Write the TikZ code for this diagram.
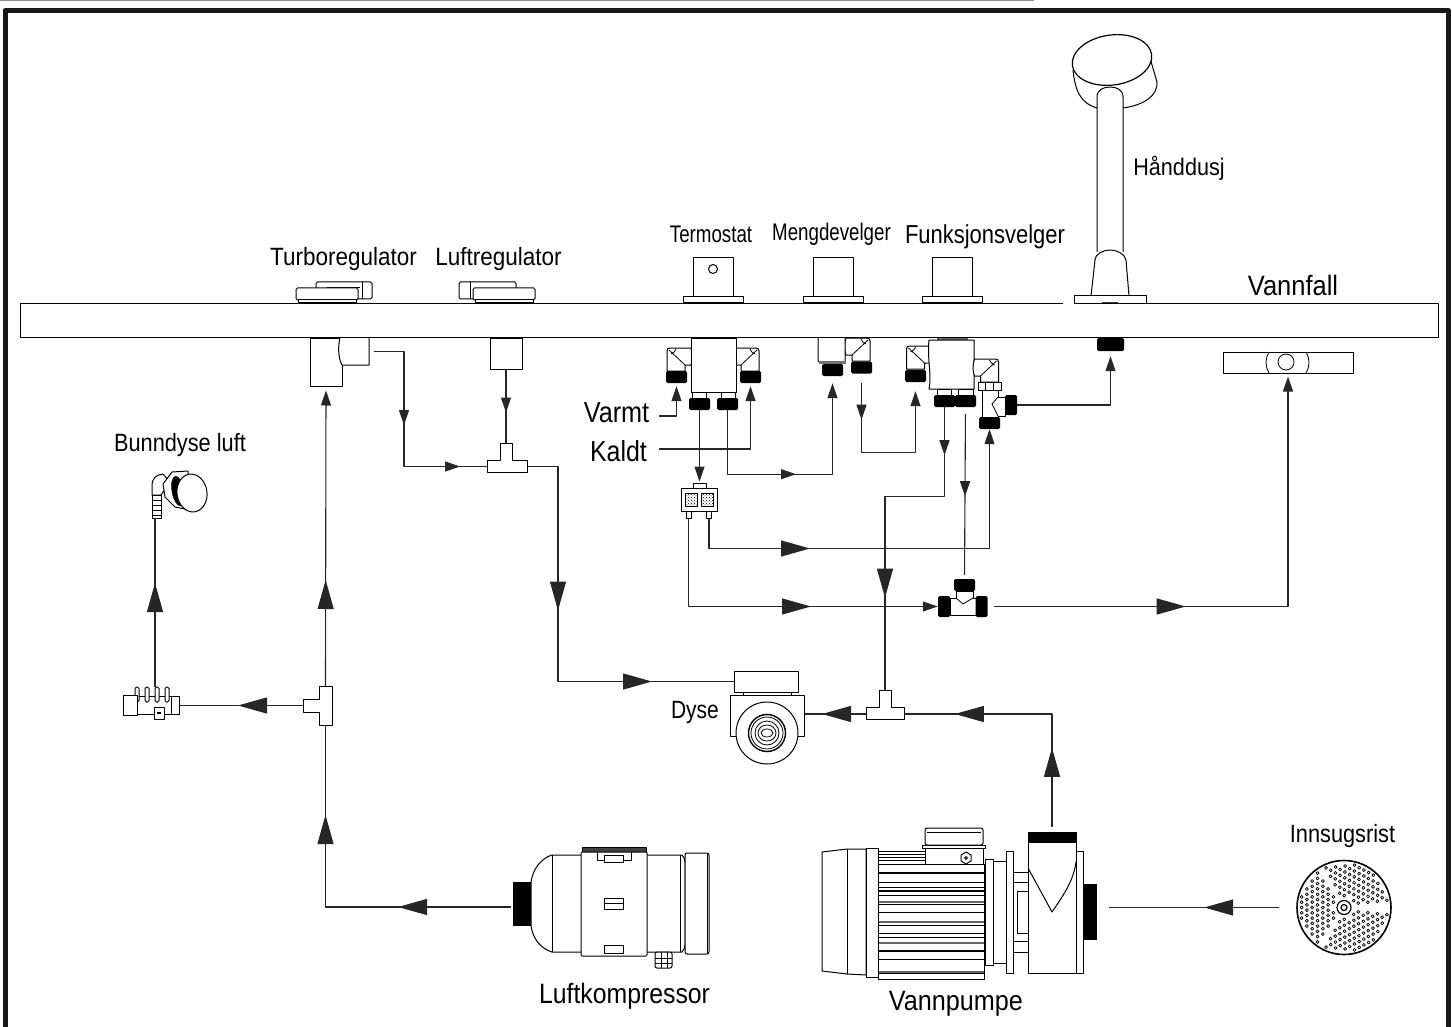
\documentclass[tikz,border=0pt]{standalone}
\usepackage{fontspec}
\setmainfont{Liberation Sans}
\usetikzlibrary{arrows.meta,decorations.markings,patterns,calc}
\tikzset{
  lbl/.style 2 args={font=\fontsize{#1}{#1}\selectfont, xscale=#2, transform shape, inner sep=0pt},
  bigtip/.style={postaction={decorate,decoration={markings,mark=at position #1 with {\arrow{Triangle[length=29pt,width=16pt]}}}}},
  smalltip/.style={postaction={decorate,decoration={markings,mark=at position #1 with {\arrow{Triangle[length=15pt,width=10pt]}}}}},
  elbow/.pic={
    \draw[part] (0,23) -- (0,3) .. controls (0,1) and (1,0) .. (3,0) -- (24,0) .. controls (26,6) and (26,12) .. (24,17) -- (18,17) -- (18,23) -- cycle;
    \draw[thinpart] (2,2) -- (18,17);
    \draw[thinpart] (9,1) .. controls (8,3) and (7,5) .. (4,6);
  }
}
\begin{document}
\begin{tikzpicture}[x=1pt,y=-1pt,line join=round]
\tikzstyle{part}=[draw=black, fill=white, line width=1pt, inner sep=0pt]
\tikzstyle{thinpart}=[draw=black, line width=.8pt]
\tikzstyle{nut}=[fill=black, rounded corners=1.5pt, inner sep=0pt, minimum width=21pt, minimum height=12pt]
\tikzstyle{flow}=[draw=black!85, line width=1.1pt]
\tikzstyle{endtip}=[-{Triangle[length=15pt,width=10pt]}]
\useasboundingbox (0,0) rectangle (1452,1027);
% frame
\draw[black!45, line width=1pt] (0,.5) -- (1034,.5);
\draw[black!90, line width=5pt] (5,1035) -- (5,10.5) -- (1448.5,10.5) -- (1448.5,1035);
% panel
\node[part, minimum width=1418pt, minimum height=34pt] (panel) at (729,320.5) {};
\draw[white, line width=3pt] (1063,303) -- (1074,303);
% regulators on top of the panel
\draw[part, rounded corners=1.5pt] (316,282) rectangle (372,299);
\draw[thinpart] (362,282) -- (362,299) (327,287) -- (360,287);
\draw[part, rounded corners=1.5pt] (296,288) rectangle (358,300);
\draw[part] (298,300) rectangle (356,303);
\draw[part, rounded corners=1.5pt] (459,282) rectangle (516,299);
\draw[thinpart] (470,282) -- (470,299);
\draw[part, rounded corners=1.5pt] (473,288) rectangle (535,300);
\draw[part] (475,300) rectangle (533,303);
\node[part, minimum width=32pt, minimum height=48pt] (turbo) at (326,362) {};
\draw[part] (340,338) .. controls (338,345) and (338,358) .. (342,365) -- (369,365) -- (369,338);
\coordinate (turboOut) at (369,351.5);
\node[part, minimum width=32pt, minimum height=31pt] (luftBox) at (506,353.5) {};
% knobs
\foreach \kx/\kname in {713/termoKnob,833/mengKnob,952/funkKnob} {
  \node[part, minimum width=40pt, minimum height=39pt] (\kname) at (\kx,277.5) {};
  \draw[part] (\kx-30,297) rectangle (\kx+30,303);
}
\draw[part] (713,269) circle[radius=4.5];
% thermostat valve
\pic at (667,348) {elbow};
\pic[xscale=-1] at (759,348) {elbow};
\draw[part] (691,338) rectangle (736,392);
\draw[part] (692,392) rectangle (706,398);
\draw[part] (721,392) rectangle (735,398);
\node[nut] (termoL) at (676.5,377) {};
\node[nut] (termoR) at (750.5,377) {};
\node[nut] (termoA) at (699.5,404) {};
\node[nut] (termoB) at (727.5,404) {};
% mixer block
\node[part, minimum width=13pt, minimum height=5pt] (mixTop) at (699.5,485.5) {};
\node[part, minimum width=36pt, minimum height=23pt] (mix) at (699,499.5) {};
\node[part, minimum width=5pt, minimum height=7pt] (mixLegL) at (688.5,514.5) {};
\node[part, minimum width=5pt, minimum height=7pt] (mixLegR) at (709,514.5) {};
\draw[thinpart, pattern=crosshatch dots] (685,493) rectangle (697,506);
\draw[thinpart, pattern=crosshatch dots] (701,493) rectangle (713,506);
% flow selector for the amount
\pic[xscale=-1] at (870,338) {elbow};
\draw[part] (818,338) -- (818,361) -- (821,363) -- (845,363) -- (845,338);
\draw[fill=black!55, draw=none] (819,361) rectangle (846,364);
\node[nut] (mengA) at (832.5,370) {};
\node[nut] (mengB) at (861.5,367.5) {};
% function selector
\draw[fill=black!60, draw=none] (937,338) rectangle (968,340);
\pic at (906.5,346) {elbow};
\draw[part] (929,340) -- (974,340) -- (974,389) -- (929,389) .. controls (932,375) and (927,360) .. (929,340);
\pic[xscale=-1] at (998.5,359) {elbow};
\draw[part] (937,389) rectangle (951,395);
\draw[part] (958,389) rectangle (973,395);
\node[nut] (funkL) at (915.5,376) {};
\node[nut] (funkA) at (944.5,401) {};
\node[nut] (funkB) at (965.5,401) {};
\draw[part] (982,390) -- (982,417) -- (998,417) -- (998,416) -- (1005,416) -- (1005,397) -- (998,397) -- (998,390) -- cycle;
\draw[thinpart] (998,397) -- (992,404) -- (998,416);
\draw[part] (978,382) rectangle (1001,390);
\draw[thinpart] (985,382) -- (985,390) (993,382) -- (993,390);
\node[nut] (funkC) at (989.5,423) {};
\node[nut, minimum width=12pt, minimum height=20pt] (funkD) at (1011,405) {};
% hand shower
\draw[part] (1073,70) .. controls (1075,90) and (1080,103) .. (1097,108) -- (1123,108) .. controls (1145,105) and (1158,95) .. (1157,82) -- (1150,58) -- cycle;
\draw[part, line width=1.2pt, rotate around={8:(1112,60)}] (1112,60) ellipse [x radius=40, y radius=25];
\draw[part] (1097,252) -- (1097,97) .. controls (1097,90) and (1103,87) .. (1110,87) .. controls (1117,87) and (1123,90) .. (1123,97) -- (1123,252);
\draw[part] (1091,296) -- (1095,260) .. controls (1095,254) and (1103,250) .. (1110,250) .. controls (1117,250) and (1125,254) .. (1126,260) -- (1129,296) -- cycle;
\draw[part] (1074,303) -- (1074,296) -- (1146,296) -- (1146,303);
\draw[black!80, line width=1pt] (1102,303) -- (1118,303);
\node[nut, minimum width=27pt, minimum height=13pt] (handNut) at (1110.5,344.5) {};
% waterfall
\node[part, minimum width=130pt, minimum height=21pt] (vannfall) at (1288,362.5) {};
\draw[thinpart] (1269,352) .. controls (1265,358) and (1265,367) .. (1269,373);
\draw[thinpart] (1306,352) .. controls (1310,358) and (1310,367) .. (1306,373);
\draw[thinpart] (1286,362) circle[radius=8];
% three way valve
\draw[part] (950,598) -- (956,598) -- (956,591) -- (973,591) -- (973,598) -- (976,598) -- (976,615) -- (950,615) -- cycle;
\draw[thinpart] (956,598) -- (963,604) -- (973,598);
\node[nut, minimum width=21pt, minimum height=12pt] (teeTop) at (964.5,585) {};
\node[nut, minimum width=12pt, minimum height=21pt] (teeL) at (944,606.5) {};
\node[nut, minimum width=12pt, minimum height=21pt] (teeR) at (981.5,606.5) {};
% air tees
\draw[part] (500,443) -- (512,443) -- (512,460) -- (527,460) -- (527,472) -- (487,472) -- (487,460) -- (500,460) -- cycle;
\coordinate (airTeeN) at (506,443);
\coordinate (airTeeW) at (487,466.5);
\coordinate (airTeeE) at (527,466.5);
\draw[part] (319,686) -- (332,686) -- (332,725) -- (319,725) -- (319,712) -- (303,712) -- (303,699) -- (319,699) -- cycle;
\coordinate (airForkN) at (325.5,686);
\coordinate (airForkS) at (325.5,725);
\coordinate (airForkW) at (303,705.5);
% water tee
\draw[part] (879,690) -- (891,690) -- (891,707) -- (904,707) -- (904,719) -- (866,719) -- (866,707) -- (879,707) -- cycle;
\coordinate (waterTeeN) at (885,690);
\coordinate (waterTeeE) at (904,714);
\coordinate (waterTeeW) at (866,714);
% nozzle
\node[part, minimum width=64pt, minimum height=21pt] (dyseTop) at (766,681.5) {};
\draw[part] (743,692) rectangle (791,695);
\node[part, minimum width=74pt, minimum height=41pt] (dyseBody) at (767,715.5) {};
\node[part, circle, minimum size=62pt] (dyseHead) at (767,733) {};
\draw[part, line width=1.4pt] (767,733) circle[radius=18.5];
\draw[thinpart] (767,733) circle[radius=16] (767,733) circle[radius=12];
\draw[thinpart] (767,733) ellipse [x radius=9, y radius=8] (767,733) ellipse [x radius=6, y radius=4];
% air manifold
\draw[part] (137,696) -- (171,696) -- (171,714) -- (137,714) -- cycle;
\foreach \mx in {137,147,157,167} \draw[part, rounded corners=1.5pt] (\mx-2,687) rectangle (\mx+2,702);
\draw[part] (123,695) rectangle (137,715);
\draw[part] (171,696) rectangle (179,714);
\draw[part] (154,707) rectangle (164,719);
\draw[fill=black, draw=none] (157,712) rectangle (161,714);
\coordinate (manifoldE) at (179,705.5);
\coordinate (manifoldN) at (155,687);
% bottom nozzle air
\draw[part] (152,495) rectangle (161,518);
\foreach \by in {500,505,510,515} \draw[thinpart] (152,\by) -- (161,\by);
\draw[part] (152,495) -- (152,486) .. controls (152,478) and (156,475) .. (163,474) -- (170,482) -- (161,495) -- cycle;
\draw[part] (163,484) -- (172,472) -- (188,471) -- (190,510) -- (175,507) -- (165,497) -- cycle;
\draw[fill=black, rotate around={10:(178,491)}] (178,491) ellipse [x radius=6, y radius=15];
\draw[part, rotate around={8:(192,493)}] (192,493) ellipse [x radius=15, y radius=19];
\coordinate (bunnDyse) at (155,518);
% air compressor
\node[nut, rounded corners=0pt, minimum width=18pt, minimum height=44pt] (comprNut) at (522,904) {};
\draw[part] (531,882) .. controls (533,868) and (542,858) .. (552,855) -- (682,855) .. controls (684,857) and (685,859) .. (685,862) -- (685,945) .. controls (685,948) and (684,950) .. (682,952) -- (552,952) .. controls (542,949) and (533,940) .. (531,926) -- cycle;
\draw[thinpart] (552,855) -- (552,952) (680,855) -- (680,952);
\draw[part, rounded corners=2pt] (685,853) rectangle (709,954);
\draw[thinpart] (707,853) -- (707,954);
\draw[fill=black!75, draw=black] (582,847) rectangle (646,852);
\draw[part, rounded corners=1pt] (581,852) rectangle (647,956);
\draw[thinpart] (597,852) -- (597,860) -- (631,860) -- (631,852);
\draw[part] (604,855) rectangle (623,862);
\draw[part] (604,898) rectangle (623,909);
\draw[thinpart] (604,903) -- (623,903);
\draw[part] (604,945) rectangle (623,953);
\draw[part, rounded corners=2pt] (655,952) rectangle (672,968);
\draw[thinpart] (655,958) -- (672,958) (655,963) -- (672,963) (661,952) -- (661,968) (667,952) -- (667,968);
\coordinate (comprOut) at (511,907);
% water pump
\draw[part] (822,852) -- (847,849) -- (866,849) -- (866,975) -- (847,974) -- (822,971) -- cycle;
\draw[thinpart] (847,849) -- (847,974);
\draw[part] (878,851) rectangle (925,864);
\foreach \ty in {854,857,860} \draw[thinpart] (878,\ty) -- (925,\ty);
\draw[part] (925,845) rectangle (983,864);
\draw[part, rounded corners=2pt] (925,828) rectangle (983,845);
\draw[thinpart] (927,832) -- (981,832);
\draw[part] (922,845) rectangle (985,848);
\draw[part] (966,852) -- (971,855) -- (971,861) -- (966,864) -- (961,861) -- (961,855) -- cycle;
\draw[thinpart] (966,858) circle[radius=1.5];
\draw[part] (878,973) rectangle (984,979);
\draw[part] (878,864) rectangle (984,973);
\foreach \ty in {882,887,895,904,912,925,933,937,959} \draw[thinpart] (878,\ty) -- (984,\ty);
\foreach \ty in {873,891,951} \draw[black, line width=1.8pt] (878,\ty) -- (984,\ty);
\foreach \ty in {902,922,943,972} \draw[black!60, line width=2pt] (878,\ty) -- (984,\ty);
\draw[part] (866,848) rectangle (878,977);
\draw[part] (985,859) rectangle (993,965);
\draw[part] (993,861) rectangle (1006,963);
\draw[part] (1006,851) rectangle (1013,973);
\draw[part] (1013,872) rectangle (1028,952);
\draw[thinpart] (1013,882) -- (1028,882) (1013,941) -- (1028,941);
\draw[part] (1017,891) rectangle (1028,933);
\draw[part] (1076,851) rectangle (1083,973);
\node[part, minimum width=48pt, minimum height=141pt] (volute) at (1052,902.5) {};
\draw[part] (1028,868) -- (1052,912) .. controls (1066,892) and (1074,878) .. (1076,862);
\node[nut, rounded corners=0pt, minimum width=48pt, minimum height=11pt] (pumpOut) at (1052,837.5) {};
\node[nut, rounded corners=0pt, minimum width=14pt, minimum height=56pt] (pumpIn) at (1090,912) {};
% intake grille
\node[part, circle, line width=1.6pt, minimum size=94pt] (rist) at (1344,907.5) {};
\draw[thinpart, line width=1.2pt] (rist.center) circle[radius=7] (rist.center) circle[radius=3];
\foreach \sect in {180,62,-62} \foreach \u in {1,...,8} \foreach \v in {-8,...,8} {
  \pgfmathsetmacro\px{\u*5.3}
  \pgfmathsetmacro\py{(\v+0.5*mod(\u,2))*5.3}
  \pgfmathtruncatemacro\keep{(veclen(\px,\py)<44)&&(veclen(\px,\py)>11)&&(abs(\py)<\px*1.43-3)?1:0}
  \ifnum\keep=1
    \pgfmathsetmacro\hx{1344+cos(\sect)*\px-sin(\sect)*\py}
    \pgfmathsetmacro\hy{907.5+sin(\sect)*\px+cos(\sect)*\py}
    \draw[line width=.7pt] (\hx,\hy) circle[radius=1.5];
  \fi
}
% connections, air side
\draw[flow, bigtip=113pt, bigtip=277.5pt] (comprOut) -| (airForkS);
\draw[flow, endtip, bigtip=106pt, shorten >=4pt] (airForkN) -- (turbo.south);
\draw[flow, bigtip=65pt] (airForkW) -- (manifoldE);
\draw[flow, bigtip=104pt] (manifoldN) -- (bunnDyse);
\draw[flow, smalltip=108.5pt, smalltip=206pt, shorten <=5pt] (turboOut) -- ++(35,0) |- (airTeeW);
\draw[flow, smalltip=43pt] (luftBox.south) -- (airTeeN);
\draw[flow, bigtip=175pt, bigtip=340pt, shorten <=1pt] (airTeeE) -- ++(31,0) |- (dyseTop.west);
% connections, water side
\draw[flow, bigtip=84pt, bigtip=215pt, shorten <=5pt] (pumpOut.north) |- (waterTeeE);
\draw[flow, bigtip=44pt] (waterTeeW) -- (waterTeeW -| dyseBody.east);
\draw[flow, bigtip=92pt, shorten <=17pt, shorten >=12pt] (rist.west) -- (rist.west -| pumpIn.east);
\draw[flow, smalltip=48pt, bigtip=250pt] (funkA.south) -- ++(0,89) -| (waterTeeN);
\draw[flow, smalltip=89pt, shorten <=7pt, shorten >=4pt] (funkB.south) -- (teeTop.north);
\draw[flow, endtip, bigtip=210.5pt] (mixLegL.south) |- (teeL.west);
\draw[flow, endtip, bigtip=131pt] (mixLegR.south) -- ++(0,30) -| (funkC.south);
\draw[flow, endtip, bigtip=198pt, shorten <=6pt, shorten >=3pt] (teeR.east) -| (vannfall.south);
\draw[flow, endtip, shorten >=1pt] (termoA.south) -- (mixTop.north);
\draw[flow, endtip, smalltip=132.5pt, shorten >=7pt] (termoB.south) -- ++(0,64) -| (mengA.south);
\draw[flow, endtip, smalltip=46pt, shorten <=9pt, shorten >=9pt] (mengB.south) -- ++(0,78.5) -| (funkL.south);
\draw[flow, endtip, shorten >=5pt] (funkD.east) -| (handNut.south);
\coordinate (varmtIn) at (659,416);
\coordinate (kaldtIn) at (659,449);
\draw[flow, endtip, shorten >=3pt] (varmtIn) -| (termoL.south);
\draw[flow, endtip, shorten >=3pt] (kaldtIn) -| (termoR.south);
% labels
\node[lbl={25}{.90}] (lblTurbo) at (343.5,259) {Turboregulator};
\node[lbl={25}{.90}] (lblLuft) at (498.5,259) {Luftregulator};
\node[lbl={24}{.78}] (lblTermo) at (711,234) {Termostat};
\node[lbl={24}{.78}] (lblMeng) at (831.5,234) {Mengdevelger};
\node[lbl={26}{.845}] (lblFunk) at (985,237) {Funksjonsvelger};
\node[lbl={24}{.90}] (lblHand) at (1179,168) {Hånddusj};
\node[lbl={28}{.91}] (lblVann) at (1293,285) {Vannfall};
\node[lbl={29}{.87}] (lblVarmt) at (616.5,413) {Varmt};
\node[lbl={29}{.86}] (lblKaldt) at (618.5,451) {Kaldt};
\node[lbl={25}{.87}] (lblBunn) at (180,445) {Bunndyse luft};
\node[lbl={25}{.84}] (lblDyse) at (695,712) {Dyse};
\node[lbl={25}{.87}] (lblRist) at (1342.5,836) {Innsugsrist};
\node[lbl={28}{.886}] (lblKomp) at (624.5,996) {Luftkompressor};
\node[lbl={28}{.90}] (lblPumpe) at (956,1004) {Vannpumpe};
\end{tikzpicture}
\end{document}
